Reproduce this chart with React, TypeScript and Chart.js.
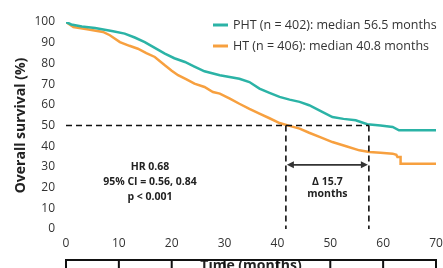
import React, { useEffect, useRef } from "react";
import { Chart, registerables } from "chart.js";

Chart.register(...registerables);

// ---- data ----
const phtMonths = [0, 1, 3, 5.5, 8.9, 11.1, 13, 14.9, 16.8, 18.7, 20.5, 22.5, 24.3, 26.2, 29.1, 32.8, 34.7, 36.6, 38.5, 40.4, 42.3, 44.2, 46, 48.2, 50.4, 52.5, 54.8, 57, 59.5, 61.8, 63, 70];
const phtSurvival = [100, 98.8, 97.8, 97.1, 95.5, 94.4, 92.5, 90.3, 87.5, 84.7, 82.5, 80.7, 78.5, 76.2, 74.3, 72.6, 71, 67.8, 65.8, 63.8, 62.5, 61.4, 59.8, 57, 54.1, 53.2, 52.5, 50.6, 50, 49.3, 47.7, 47.7];
const htMonths = [0, 1.4, 4, 7, 8.3, 10.2, 12, 13.6, 15.2, 16.8, 18.7, 20, 21.2, 22.8, 24.3, 26.2, 27.8, 29.1, 31, 32.8, 34.7, 36.6, 38.5, 40.4, 42.3, 44.2, 46, 48.2, 50.4, 53, 55.5, 57.4, 59.5, 61.8, 62.5, 62.7, 63.3, 63.3, 70];
const htSurvival = [100, 97.6, 96.5, 95.2, 93.6, 90.3, 88.5, 87.1, 85, 83.1, 79.1, 76.5, 74.3, 72.3, 70.2, 68.6, 66.2, 65.4, 63, 60.5, 58, 55.7, 53.5, 51.2, 49.8, 48.5, 46.5, 44.3, 42, 40, 38, 37.2, 36.8, 36.4, 35.8, 34.8, 34.8, 31.5, 31.5];

const seriesLabels = ["PHT (n = 402): median 56.5 months", "HT (n = 406): median 40.8 months"];
const seriesColors = ["#2BB3A6", "#F7A03F"];
const xTicks = [0, 10, 20, 30, 40, 50, 60, 70];
const yTicks = [0, 10, 20, 30, 40, 50, 60, 70, 80, 90, 100];
const medianLines = [41.6, 57.3]; // drawn positions of the median markers
const medianLevel = 50;
const arrowLevel = 31;
const hrText = ["HR 0.68", "95% CI = 0.56, 0.84", "p < 0.001"];
const deltaText = ["\u0394 15.7", "months"];
const xTitle = "Time (months)";
const yTitle = "Overall survival (%)";

const FONT = "'Open Sans', sans-serif";

const overlay = {
  id: "overlay",
  afterDatasetsDraw(chart: any) {
    const { ctx } = chart;
    const xs = chart.scales.x;
    const ys = chart.scales.y;
    const px = (v: number) => xs.getPixelForValue(v);
    const py = (v: number) => ys.getPixelForValue(v);
    ctx.save();

    // dashed median lines
    ctx.strokeStyle = "#111";
    ctx.lineWidth = 1.6;
    ctx.setLineDash([6, 4]);
    ctx.beginPath();
    ctx.moveTo(px(0), py(medianLevel));
    ctx.lineTo(px(medianLines[1]), py(medianLevel));
    medianLines.forEach((m) => {
      ctx.moveTo(px(m), py(medianLevel));
      ctx.lineTo(px(m), py(0));
    });
    ctx.stroke();
    ctx.setLineDash([]);

    // double arrow
    const ax1 = px(medianLines[0]) + 1;
    const ax2 = px(medianLines[1]) - 1;
    const ay = py(arrowLevel);
    ctx.strokeStyle = "#333";
    ctx.fillStyle = "#333";
    ctx.lineWidth = 1.6;
    ctx.beginPath();
    ctx.moveTo(ax1 + 4, ay);
    ctx.lineTo(ax2 - 4, ay);
    ctx.stroke();
    ctx.beginPath();
    ctx.moveTo(ax1, ay);
    ctx.lineTo(ax1 + 7, ay - 3.5);
    ctx.lineTo(ax1 + 7, ay + 3.5);
    ctx.closePath();
    ctx.fill();
    ctx.beginPath();
    ctx.moveTo(ax2, ay);
    ctx.lineTo(ax2 - 7, ay - 3.5);
    ctx.lineTo(ax2 - 7, ay + 3.5);
    ctx.closePath();
    ctx.fill();

    // texts
    ctx.fillStyle = "#222";
    ctx.textAlign = "center";
    ctx.textBaseline = "middle";
    ctx.font = `bold 10.5px ${FONT}`;
    const cx = (ax1 + ax2) / 2;
    ctx.fillText(deltaText[0], cx, 182);
    ctx.fillText(deltaText[1], cx, 194);
    hrText.forEach((t, i) => ctx.fillText(t, 150, 167 + i * 15));

    // legend
    ctx.textAlign = "left";
    ctx.font = `12.5px ${FONT}`;
    seriesLabels.forEach((t, i) => {
      const y = 25 + i * 21;
      ctx.strokeStyle = seriesColors[i];
      ctx.lineWidth = 3;
      ctx.beginPath();
      ctx.moveTo(213, y);
      ctx.lineTo(228, y);
      ctx.stroke();
      ctx.fillStyle = "#333";
      ctx.fillText(t, 233, y);
    });

    // y title
    ctx.save();
    ctx.translate(21, (py(0) + py(100)) / 2);
    ctx.rotate(-Math.PI / 2);
    ctx.textAlign = "center";
    ctx.font = `bold 14px ${FONT}`;
    ctx.fillStyle = "#222";
    ctx.fillText(yTitle, 0, 0);
    ctx.restore();

    // x title (partly hidden) and bracket axis
    ctx.textAlign = "center";
    ctx.textBaseline = "alphabetic";
    ctx.font = `bold 14px ${FONT}`;
    ctx.fillStyle = "#222";
    ctx.fillText(xTitle, (px(0) + px(70)) / 2, 270);
    ctx.strokeStyle = "#111";
    ctx.lineWidth = 2;
    ctx.beginPath();
    ctx.moveTo(px(0), 260);
    ctx.lineTo(px(70), 260);
    xTicks.forEach((t) => {
      ctx.moveTo(px(t), 259);
      ctx.lineTo(px(t), 268);
    });
    ctx.stroke();
    ctx.restore();
  },
};

export default function App() {
  const ref = useRef<HTMLCanvasElement>(null);
  useEffect(() => {
    if (!ref.current) return;
    const toPts = (xs: number[], ys: number[]) => xs.map((x, i) => ({ x, y: ys[i] }));
    const chart = new Chart(ref.current, {
      type: "line",
      data: {
        datasets: [
          { label: seriesLabels[0], data: toPts(phtMonths, phtSurvival), borderColor: seriesColors[0], borderWidth: 2.5, pointRadius: 0, tension: 0 },
          { label: seriesLabels[1], data: toPts(htMonths, htSurvival), borderColor: seriesColors[1], borderWidth: 2.5, pointRadius: 0, tension: 0 },
        ],
      },
      options: {
        responsive: false,
        animation: false,
        layout: { padding: { left: 0, top: 22, right: 7, bottom: 0 } },
        plugins: { legend: { display: false }, tooltip: { enabled: false } },
        scales: {
          x: {
            type: "linear",
            min: 0,
            max: 70,
            grid: { display: false, drawTicks: false },
            border: { display: false },
            afterBuildTicks: (s: any) => { s.ticks = xTicks.map((v) => ({ value: v })); },
            afterFit: (s: any) => { s.height = 39; s.paddingLeft = 0; s.paddingRight = 0; },
            ticks: { color: "#333", font: { family: FONT, size: 12 }, padding: 7, maxRotation: 0 },
          },
          y: {
            min: 0,
            max: 100,
            grid: { display: false, drawTicks: false },
            border: { display: false },
            afterBuildTicks: (s: any) => { s.ticks = yTicks.map((v) => ({ value: v })); },
            afterFit: (s: any) => { s.width = 66; s.paddingTop = 0; s.paddingBottom = 0; },
            ticks: { color: "#333", font: { family: FONT, size: 12 }, padding: 11 },
          },
        },
      },
      plugins: [overlay],
    });
    return () => chart.destroy();
  }, []);
  return (
    <div style={{ position: "absolute", left: 0, top: 0, width: 443, height: 268, background: "#fff" }}>
      <canvas ref={ref} width={443} height={268} />
    </div>
  );
}
